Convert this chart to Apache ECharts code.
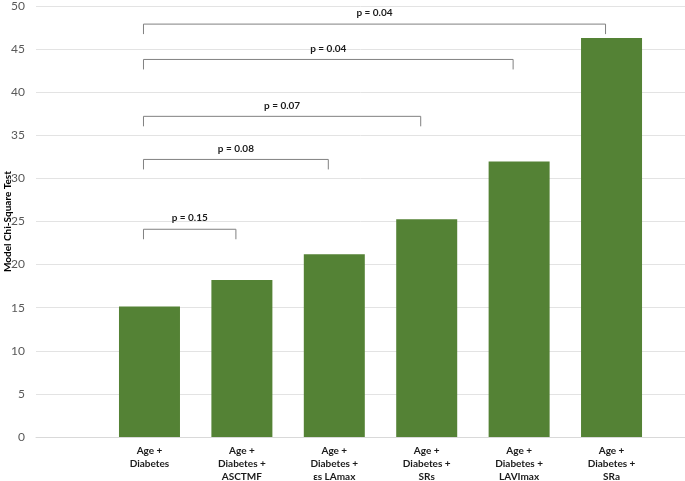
<!DOCTYPE html>
<html>
<head>
<meta charset="utf-8">
<script src="https://cdn.jsdelivr.net/npm/echarts@6/dist/echarts.min.js"></script>
<style>
  html, body { margin: 0; padding: 0; background: #fff; }
  #main { width: 685px; height: 481px; }
</style>
</head>
<body>
<div id="main"></div>
<script>
// model labels and chi-square values
var categories = [
  'Age +\nDiabetes',
  'Age +\nDiabetes +\nASCTMF',
  'Age +\nDiabetes +\nεs LAmax',
  'Age +\nDiabetes +\nSRs',
  'Age +\nDiabetes +\nLAVImax',
  'Age +\nDiabetes +\nSRa'
];
var chiSquare = [15.15, 18.2, 21.2, 25.25, 31.95, 46.3];

// comparison brackets: all start at the first model
var bracketFrom = [0, 0, 0, 0, 0];
var bracketTo = [1, 2, 3, 4, 5];
var bracketLevel = [24.1, 32.2, 37.2, 43.8, 47.9];
var pValues = ['p = 0.15', 'p = 0.08', 'p = 0.07', 'p = 0.04', 'p = 0.04'];

var yTicks = [0, 5, 10, 15, 20, 25, 30, 35, 40, 45, 50];

var chart = echarts.init(document.getElementById('main'));

var barData = chiSquare.map(function (v, i) { return [i, v]; });
var bracketData = bracketFrom.map(function (f, i) {
  return [f, bracketLevel[i], bracketTo[i], pValues[i]];
});

var option = {
  animation: false,
  grid: { left: 36, right: 0, top: 6, bottom: 44, outerBoundsMode: 'none', containLabel: false },
  xAxis: {
    type: 'value',
    min: -1.228,
    max: 5.795,
    splitLine: { show: false },
    axisLine: { show: true, lineStyle: { color: '#d9d9d9', width: 1 } },
    axisTick: { show: false },
    axisLabel: {
      customValues: [0, 1, 2, 3, 4, 5],
      formatter: function (v) { return categories[Math.round(v)]; },
      fontFamily: 'Lato',
      fontSize: 10,
      fontWeight: 'bold',
      color: '#1a1a1a',
      lineHeight: 13,
      margin: 7
    }
  },
  yAxis: {
    type: 'value',
    min: yTicks[0],
    max: yTicks[yTicks.length - 1],
    interval: 5,
    name: 'Model Chi-Square Test',
    nameLocation: 'middle',
    nameGap: 23,
    nameMoveOverlap: false,
    nameTextStyle: { fontFamily: 'Lato', fontSize: 10, fontWeight: 'bold', color: '#000' },
    axisLine: { show: false },
    axisTick: { show: false },
    axisLabel: { fontFamily: 'Lato', fontSize: 12, color: '#595959', margin: 11 },
    splitLine: { lineStyle: { color: '#e3e3e3', width: 1 } }
  },
  series: [
    {
      type: 'bar',
      data: barData,
      barWidth: 61,
      itemStyle: { color: '#548235' }
    },
    {
      type: 'custom',
      data: bracketData,
      clip: false,
      z: 5,
      renderItem: function (params, api) {
        var left = api.coord([api.value(0), api.value(1)]);
        var right = api.coord([api.value(2), api.value(1)]);
        var x1 = left[0] - 6, x2 = right[0] - 6, y = left[1];
        var leg = 10;
        return {
          type: 'group',
          children: [
            {
              type: 'polyline',
              shape: { points: [[x1, y + leg], [x1, y], [x2, y], [x2, y + leg]] },
              style: { stroke: '#808080', lineWidth: 1, fill: null }
            },
            {
              type: 'text',
              x: (x1 + x2) / 2,
              y: y - 11,
              style: {
                text: api.value(3),
                fontFamily: 'Lato',
                fontSize: 10,
                fontWeight: 'bold',
                fill: '#1a1a1a',
                align: 'center',
                verticalAlign: 'middle'
              }
            }
          ]
        };
      }
    }
  ]
};

chart.setOption(option);
</script>
</body>
</html>
